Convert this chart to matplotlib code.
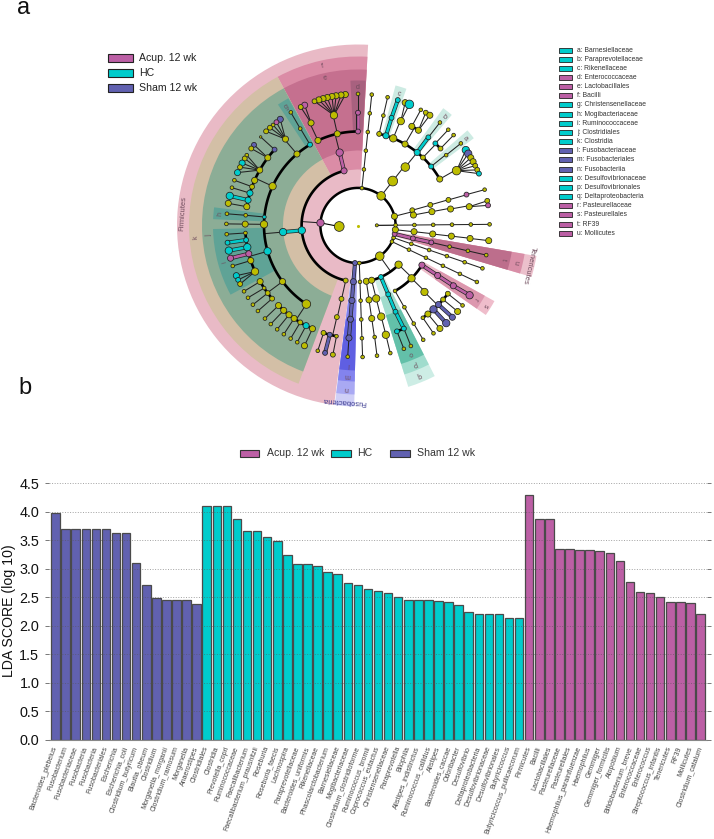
import numpy as np
import matplotlib
matplotlib.use("Agg")
import matplotlib.pyplot as plt
from matplotlib.patches import Rectangle

plt.rcParams['font.family'] = ['Liberation Sans', 'DejaVu Sans']

W, H = 714, 839
ACUP, HC, SHAM, NODE = '#BC5FA5', '#00CCCC', '#6161B0', '#BDBD00'
group_colors = {'a': ACUP, 'h': HC, 's': SHAM, 'y': NODE}

# ---------- panel b data ----------
sham_names = ['Bacteroides_plebeius', 'Fusobacterium', 'Fusobacteriaceae', 'Fusobacteria', 'Fusobacteria',
              'Fusobacteriales', 'Escherichia', 'Escherichia_coli', 'Clostridium_butyricum', 'Blautia_obeum',
              'Clostridium', 'Morganella_morganii', 'Clostridium_ramosum', 'Morganella', 'Anaerostipes']
sham_vals = [3.97, 3.70, 3.70, 3.70, 3.70, 3.70, 3.63, 3.63, 3.10, 2.72, 2.48, 2.46, 2.46, 2.46, 2.38]
hc_names = ['Clostridiales', 'Clostridia', 'Prevotella_copri', 'Ruminococcaceae', 'Faecalibacterium',
            'Faecalibacterium_prausnitzii', 'Roseburia', 'Roseburia_faecis', 'Lachnospira', 'Paraprevotellaceae',
            'Bacteroides_uniformis', 'Rikenellaceae', 'Phascolarctobacterium', 'Barnesiellaceae',
            'Mogibacteriaceae', 'Clostridium_clostridioforme', 'Ruminococcus_bromii', 'Coprococcus_eutactus',
            'Christensenellaceae', 'Paraprevotella', 'Bilophila', 'Alistipes_indistinctus',
            'Ruminococcus_callidus', 'Alistipes', 'Bacteroides_caccae', 'Odoribacter', 'Desulfovibrio',
            'Deltaproteobacteria', 'Desulfovibrionaceae', 'Desulfovibrionales', 'Butyricicoccus',
            'Butyricicoccus_pullicaecorum']
hc_vals = [4.11, 4.11, 4.10, 3.88, 3.67, 3.67, 3.56, 3.48, 3.25, 3.08, 3.08, 3.05, 2.94, 2.90, 2.75, 2.72,
           2.64, 2.61, 2.58, 2.50, 2.46, 2.45, 2.45, 2.43, 2.41, 2.36, 2.25, 2.21, 2.21, 2.21, 2.13, 2.13]
acup_names = ['Firmicutes', 'Bacilli', 'Lactobacillales', 'Pasteurellaceae', 'Pasteurellales',
              'Haemophilus_parainfluenzae', 'Haemophilus', 'Gemmiger', 'Gemmiger_formicilis', 'Atopobium',
              'Bifidobacterium_breve', 'Enterococcaceae', 'Enterococcus', 'Streptococcus_infantis',
              'Tenericutes', 'RF39', 'Mollicutes', 'Clostridium_catalum']
acup_vals = [4.29, 3.88, 3.88, 3.34, 3.34, 3.33, 3.33, 3.31, 3.28, 3.14, 2.77, 2.59, 2.57, 2.51, 2.42, 2.41,
             2.40, 2.21]
yticks_vals = [0.0, 0.5, 1.0, 1.5, 2.0, 2.5, 3.0, 3.5, 4.0, 4.5]

# ---------- panel a legends ----------
group_labels = ['Acup. 12 wk', 'HC', 'Sham 12 wk']
key_labels = ['a: Barnesiellaceae', 'b: Paraprevotellaceae', 'c: Rikenellaceae', 'd: Enterococcaceae',
              'e: Lactobacillales', 'f: Bacilli', 'g: Christensenellaceae', 'h: Mogibacteriaceae',
              'i: Ruminococcaceae', 'j: Clostridiales', 'k: Clostridia', 'l: Fusobacteriaceae',
              'm: Fusobacteriales', 'n: Fusobacteriia', 'o: Desulfovibrionaceae', 'p: Desulfovibrionales',
              'q: Deltaproteobacteria', 'r: Pasteurellaceae', 's: Pasteurellales', 't: RF39', 'u: Mollicutes']
key_groups = 'hhhaaahhhhhssshhhaaaa'

# ---------- cladogram: nodes in depth-first order (level, angle in degrees, diameter, group) ----------
root_level = [1]; root_angle = [183]; root_size = [8]; root_group = 'y'

firm_level = [2, 3, 4, 5, 6, 7, 7, 5, 6, 7, 7, 7, 7, 7, 7, 7, 7, 5, 6, 7,
              3, 4, 5, 6, 7, 5, 6, 7, 7, 7, 7, 7,
              5, 6, 7, 6, 7, 7, 6, 7, 7, 7, 7, 7, 6, 6, 7, 6, 7, 6, 7, 6, 7,
              5, 6, 7, 5, 6, 7,
              5, 6, 7, 6, 7, 6, 7, 6, 7, 6, 7, 6, 7, 7, 7,
              5, 6, 7, 6, 7, 6, 7, 6, 7,
              5, 6, 7, 6, 7, 6, 7, 6, 7, 6, 7, 6, 7, 6, 7,
              3, 4, 5, 6, 7, 6, 7, 6, 7]
firm_angle = [176, 104.3, 104.1, 115.2, 114.6, 113.9, 115.8, 102.7, 102.3, 95.5, 97.4, 99.6, 101.4, 103.5,
              105.4, 107.3, 109.3, 90, 90, 90,
              185, 185, 120.7, 120.8, 120.7, 130.5, 130, 126.2, 128.3, 130.2, 132, 134.3,
              155.3, 137.7, 137.7, 143.1, 142.2, 144.2, 150.6, 147.7, 149.4, 151.7, 153.7, 156.3, 156.4,
              159.9, 159.9, 163.3, 163.3, 167, 167, 170.4, 170.3,
              174.8, 174.8, 174.9, 179.3, 179.3, 179.3,
              195.9, 183.8, 183.8, 187.4, 187.5, 191.1, 191, 194.5, 194.4, 198.1, 197.9, 204.1, 202.4, 204.4, 206.4,
              216.6, 209.8, 210, 213.7, 213.3, 216.8, 217, 220.4, 220.5,
              236.7, 225.2, 225, 228.8, 228.5, 232.3, 232.1, 235.5, 235.7, 239.2, 239.2, 242.6, 242.5, 246.2, 246,
              257.4, 257.3, 257, 255.5, 255.5, 252.2, 252.2, 259, 259]
firm_size = [6, 5, 6, 5, 5, 5, 4, 5, 6, 5, 5, 5, 5, 5, 5, 5, 4, 4, 4, 3,
             6, 6, 4, 3, 3, 5, 5, 5, 4, 3, 4, 4,
             6, 4, 2, 5, 4, 4, 5, 3, 4, 5, 4, 5, 5, 4, 3, 5, 3, 5, 6, 5, 5,
             3, 3, 3, 6, 5, 3,
             6, 3, 3, 4, 4, 6, 6, 5, 5, 5, 3, 6, 5, 4, 4,
             5, 5, 3, 3, 3, 4, 3, 4, 3,
             7, 5, 3, 5, 3, 5, 3, 5, 3, 4, 3, 5, 3, 5, 5,
             4, 4, 4, 4, 4, 4, 3, 3, 4]
firm_group = ('aaayyayyyyyyyyyyyaay'
              + 'hhhyyyysayyy'
              + 'ysyysy' + 'yyyhyh' + 'yyy' + 'hy' + 'hh' + 'yy'
              + 'hyyyyy'
              + 'hyyhhhhaayyyhhy'
              + 'yyyyyyyyy'
              + 'yyyyyyyyyyyhyyy'
              + 'yyyssyyyy')

fuso_level = [2, 3, 4, 5, 6, 7]
fuso_angle = [-94.6, -94.7, -94.6, -94.6, -94.6, -94.5]
fuso_size = [4, 5, 5, 5, 5, 3]
fuso_group = 'sssssy'

fuso_next_level = [2, 3, 4, 5, 6, 7]
fuso_next_angle = [-88, -88, -88, -88, -88, -88]
fuso_next_size = [3, 3, 3, 3, 3, 3]
fuso_next_group = 'yyyyyy'

prot_level = [2, 3, 4, 5, 6, 7, 3, 4, 5, 6, 7, 3, 4, 5, 6, 7, 6, 7,
              3, 4, 5, 6, 7, 4, 5, 6, 7, 6, 7, 6, 7, 6, 7, 6, 7, 6, 7, 4, 5, 6, 7]
prot_angle = [-54.6, -81.5, -81.6, -81.6, -81.5, -81.7, -76, -76, -75.7, -75.7, -75.8,
              -66, -66.3, -66.5, -66, -66.3, -69.8, -69.6,
              -44, -60.5, -60.4, -60.4, -60.3, -44.6, -45, -54.9, -55, -51.7, -51.5, -48, -47.9, -44.5, -44.2,
              -41, -40.8, -37.2, -37.4, -31.8, -32.1, -32.3, -32]
prot_size = [7, 5, 5, 5, 3, 3, 5, 6, 6, 6, 3, 4, 4, 4, 4, 3, 4, 3,
             6, 3, 3, 3, 3, 6, 6, 3, 3, 5, 5, 6, 6, 5, 5, 4, 5, 4, 3, 5, 5, 5, 6]
prot_group = 'yyyyyy' + 'yyyyy' + 'hhhhyhy' + 'yyyyy' + 'yyyyyyssss' + 'yyyy' + 'aaaa'

chain_25_level = [2, 3, 4, 5, 6, 7]
chain_25_angle = [-25.4, -25.4, -25.4, -25.4, -25.4, -25.4]
chain_25_size = [3, 3, 3, 3, 3, 3]
chain_25_group = 'yyyyyy'

chain_19_level = [2, 3, 4, 5, 6, 7]
chain_19_angle = [-19, -19, -19, -19, -19, -19]
chain_19_size = [3, 3, 3, 3, 3, 3]
chain_19_group = 'yyyyyy'

tene_level = [2, 3, 4, 5, 6, 7]
tene_angle = [-13, -13.2, -13, -13, -13, -13]
tene_size = [4, 4, 4, 3, 3, 3]
tene_group = 'aaayyy'

chain_6_level = [2, 3, 4, 5, 6, 7]
chain_6_angle = [-6.4, -6.3, -6.5, -6.5, -6.6, -6.6]
chain_6_size = [5, 5, 5, 5, 5, 5]
chain_6_group = 'yyyyyy'

upper_level = [2, 3, 4, 5, 6, 7, 3, 4, 5, 6, 7, 7]
upper_angle = [14.2, 15.7, 15.9, 15.8, 15.9, 15.8, 10.7, 10.6, 10.1, 9.6, 10.8, 8.8]
upper_size = [5, 4, 4, 4, 4, 3, 5, 5, 5, 5, 4, 4]
upper_group = 'yyyyay' + 'yyyyya'

bact_level = [2, 3, 4, 5, 6, 7, 5, 6, 7, 5, 6, 7, 7, 5, 6, 7, 6, 7, 7, 5, 6, 7,
              5, 6, 7, 6, 7, 5, 6, 7, 5, 6, 7, 7, 7, 7, 7, 7, 7]
bact_angle = [52, 52, 51, 77, 77, 77, 72.7, 72.7, 72.4, 68, 67.7, 69, 67, 60, 61.5, 61.5, 57.6, 59, 56.9,
              51, 51.4, 51.5, 46.3, 46.7, 46.7, 43, 43.4, 38.9, 38.6, 38.6,
              29.6, 29.1, 35, 33.1, 31, 29, 27, 25, 23.2]
bact_size = [7, 8, 7, 4, 3, 3, 5, 4, 4, 6, 6, 5, 7, 5, 5, 3, 5, 4, 5, 5, 4, 3, 4, 4, 3, 4, 3, 4, 3, 3,
             5, 7, 6, 6, 5, 5, 4, 4, 4]
bact_group = 'yyyyyy' + 'hhh' + 'yyyh' + 'yyyyyy' + 'hhy' + 'yhy' + 'yy' + 'hyy' + 'yyhsyyyyh'

chain_84_level = [2, 3, 4, 5, 6, 7]
chain_84_angle = [84, 84, 84, 84, 84, 84]
chain_84_size = [3, 3, 3, 3, 3, 3]
chain_84_group = 'yyyyyy'

chain_0_level = [1, 2, 3, 4, 5, 6, 7]
chain_0_angle = [0.5, 0.5, 0.5, 0.5, 0.5, 0.5, 0.5]
chain_0_size = [2.5, 3, 3, 3, 3, 3, 3]
chain_0_group = 'yyyyyyy'

# ---------- cladogram shading: start, end (deg), inner, outer (pixels from the centre) ----------
wedge_start = [86.8, 86.8, 86.8, 87, 118.4, 118.4, 118.7, 172.8, 181.4,
               -16.5, -16.5, -16.5, -35, -35,
               -97.4, -97.4, -97.4, -97.4,
               -72.7, -72.7, -72.7, 70.5, 49.7, 37]
wedge_end = [262.4, 118.4, 118.4, 93, 249.4, 249.4, 123.5, 177.5, 208.5,
             -9.7, -9.7, -9.7, -29, -29,
             -91.2, -91.2, -91.2, -91.2,
             -63, -63, -63, 75, 54, 41]
wedge_inner = [38, 56, 75, 94, 56, 75, 94, 94, 94,
               38, 56, 75, 75, 94,
               38, 56, 75, 94,
               56, 75, 94, 94, 94, 94]
wedge_outer = [181, 169, 156, 145, 169, 156, 145, 145, 145,
               181, 169, 156, 156, 145,
               181, 169, 156, 145,
               169, 156, 145, 145, 145, 145]
wedge_color = ['#E9BAC6', '#DB8CA6', '#C5708F', '#A8617F', '#D3BFA6', '#8CAD96', '#5FA396', '#5FA396', '#5FA396',
               '#ECC0CC', '#D98EA7', '#BD6E8C', '#EFBDCB', '#DC97AE',
               '#CFCFF7', '#A9A9F3', '#8383EE', '#5F5FE2',
               '#CDEDE5', '#A0DCCD', '#63C0A9', '#CDEBE3', '#CDEBE3', '#CDEBE3']

wedge_text = ['a', 'b', 'c', 'd', 'e', 'f', 'g', 'h', 'i', 'j', 'k', 'l', 'm', 'n', 'o', 'p', 'q', 'r', 's', 't', 'u',
              'Firmicutes', 'Tenericutes', 'Fusobacteria']
wedge_text_angle = [39, 51.7, 72.8, 90, 102.5, 102.5, 121, 175, 195, 183.6, 184, -94, -94, -94,
                    -67.7, -67.7, -67.7, -32, -32, -13, -13, 176, -13, -94.3]
wedge_text_r = [138, 138, 138, 138, 151, 163, 138, 138, 138, 150, 163, 139, 150, 163,
                138, 150, 162, 138, 150, 149, 162, 175, 175, 176]

# ---------- figure ----------
fig = plt.figure(figsize=(W / 100, H / 100), dpi=100, facecolor='white')

# overlay in picture pixels for legends and letters
over = fig.add_axes([0, 0, 1, 1], zorder=5)
over.set_xlim(0, W)
over.set_ylim(H, 0)
over.axis('off')
over.patch.set_alpha(0)

# ---------- cladogram ----------
CX, CY, RMAX, LEVEL_PX = 358, 225.5, 190, 18.8
clad = fig.add_axes([(CX - RMAX) / W, (H - CY - RMAX) / H, 2 * RMAX / W, 2 * RMAX / H], projection='polar', zorder=1)
clad.set_rlim(0, RMAX)
clad.set_axis_off()
clad.patch.set_alpha(0)

for a0, a1, r0, r1, c in zip(wedge_start, wedge_end, wedge_inner, wedge_outer, wedge_color):
    clad.bar(np.deg2rad(a0), r1 - r0, width=np.deg2rad(a1 - a0), bottom=r0, align='edge', color=c,
             edgecolor='none', zorder=1)

level = root_level + firm_level + fuso_level + fuso_next_level + prot_level + chain_25_level + chain_19_level \
    + tene_level + chain_6_level + upper_level + bact_level + chain_84_level + chain_0_level
angle = root_angle + firm_angle + fuso_angle + fuso_next_angle + prot_angle + chain_25_angle + chain_19_angle \
    + tene_angle + chain_6_angle + upper_angle + bact_angle + chain_84_angle + chain_0_angle
size = root_size + firm_size + fuso_size + fuso_next_size + prot_size + chain_25_size + chain_19_size \
    + tene_size + chain_6_size + upper_size + bact_size + chain_84_size + chain_0_size
groups = root_group + firm_group + fuso_group + fuso_next_group + prot_group + chain_25_group + chain_19_group \
    + tene_group + chain_6_group + upper_group + bact_group + chain_84_group + chain_0_group
assert len(level) == len(angle) == len(size) == len(groups), (len(level), len(angle), len(size), len(groups))
n = len(level)

parents = [None] * n
stack = {}
children = {}
for i in range(n):
    lv = level[i]
    if lv > 1:
        parents[i] = stack.get(lv - 1)
        children.setdefault(parents[i], []).append(i)
    stack[lv] = i


def rad(i):
    return level[i] * LEVEL_PX


def th(a):
    return np.deg2rad(a)


# ring of the phylum level
tt = np.linspace(0, 2 * np.pi, 361)
clad.plot(tt, np.full_like(tt, 2 * LEVEL_PX), color='black', lw=1.8, zorder=3)

for p, kids in children.items():
    lv_c = level[kids[0]]
    rc = lv_c * LEVEL_PX
    if lv_c == 2:
        for k in kids:
            if abs(angle[k] - angle[p]) < 10:
                clad.plot([th(angle[p]), th(angle[k])], [rad(p), rc], color='black', lw=0.8, zorder=3)
        continue
    if lv_c == 7:
        for k in kids:
            clad.plot([th(angle[p]), th(angle[k])], [rad(p), rc], color='#222222', lw=0.75, zorder=3)
    else:
        clad.plot([th(angle[p])] * 2, [rad(p), rc], color='#222222', lw=0.75, zorder=3)
        span = [angle[k] for k in kids] + [angle[p]]
        if max(span) - min(span) > 0.6:
            aa = np.linspace(min(span), max(span), 80)
            clad.plot(th(aa), np.full_like(aa, rc), color='black', lw=1.9, zorder=3)

# thick coloured edges between biomarkers of one group
for i in range(n):
    p = parents[i]
    if p is None or groups[i] == 'y' or groups[i] != groups[p] or abs(angle[i] - angle[p]) > 3:
        continue
    xs, ys = [th(angle[p]), th(angle[i])], [rad(p), rad(i)]
    clad.plot(xs, ys, color='#222222', lw=2.9, zorder=3.2, solid_capstyle='butt')
    clad.plot(xs, ys, color=group_colors[groups[i]], lw=1.9, zorder=3.3, solid_capstyle='butt')

clad.scatter(th(np.array(angle, float)), np.array(level) * LEVEL_PX,
             s=(np.array(size, float) * 1.22 * 0.72) ** 2,
             c=[group_colors[g] for g in groups], edgecolors='#222222', linewidths=0.55, zorder=4)
clad.scatter([0], [0], s=1.5, c=[NODE], zorder=4)

for t, a, r in zip(wedge_text, wedge_text_angle, wedge_text_r):
    long_name = len(t) > 1
    col = '#6E4B5C' if t != 'Fusobacteria' else '#39398F'
    clad.text(th(a), r, t, rotation=a - 90, rotation_mode='anchor', ha='center', va='center',
              fontsize=5.4 if long_name else 5, color=col, zorder=5)

# legends of panel a
for lab, col, y in zip(group_labels, [ACUP, HC, SHAM], [58, 73, 88]):
    over.add_patch(Rectangle((108, y - 4), 25, 8, facecolor=col, edgecolor='#222222', lw=0.8))
    over.text(139, y, lab, fontsize=7.6, va='center', ha='left', color='#222222')

key_col = {'a': ACUP, 'h': HC, 's': SHAM}
for i, lab in enumerate(key_labels):
    y = 50 + i * 9.165
    over.add_patch(Rectangle((558.5, y - 2.5), 13, 5, facecolor=key_col[key_groups[i]], edgecolor='#222222', lw=0.6))
    over.text(577, y, lab, fontsize=4.9, va='center', ha='left', color='#333333')

over.text(17, 13.5, 'a', fontsize=17, va='baseline', ha='left', color='#111111')
over.text(18, 394, 'b', fontsize=17, va='baseline', ha='left', color='#111111')

# legend of panel b
for lab, col, x0, xt in zip(group_labels, [ACUP, HC, SHAM], [239.5, 331, 390], [267, 357, 417]):
    over.add_patch(Rectangle((x0, 449.5), 19.5, 7, facecolor=col, edgecolor='#333333', lw=0.8))
    over.text(xt, 453, lab, fontsize=7.6, va='center', ha='left', color='#333333')

# ---------- bars ----------
names = sham_names + hc_names + acup_names
vals = sham_vals + hc_vals + acup_vals
cols = [SHAM] * len(sham_vals) + [HC] * len(hc_vals) + [ACUP] * len(acup_vals)
AX_L, AX_R, AX_T, AX_B = 49, 707, 483.3, 739.7
ax = fig.add_axes([AX_L / W, (H - AX_B) / H, (AX_R - AX_L) / W, (AX_B - AX_T) / H], zorder=2)
step = (700.5 - 55.6) / 64
ax.set_xlim((AX_L - 55.6) / step, (AX_R - 55.6) / step)
ax.set_ylim(0, 4.5)
xs = np.arange(len(vals))
ax.bar(xs, vals, width=0.85, color=cols, edgecolor='#4a4a4a', linewidth=0.9, zorder=2)
ax.set_yticks(yticks_vals)
ax.set_yticklabels([f'{v:.1f}' for v in yticks_vals], fontsize=10.4, color='#111111')
ax.yaxis.set_ticks_position('both')
ax.tick_params(axis='y', length=3, width=0.7, color='#777777', pad=4)
ax.set_xticks(xs)
ax.set_xticklabels(names, rotation=70, rotation_mode='anchor', ha='right', va='center', fontsize=5,
                   color='#444444')
ax.tick_params(axis='x', length=0, pad=5)
ax.set_ylabel('LDA SCORE (log 10)', fontsize=10.2, color='#111111')
ax.yaxis.set_label_coords((16 - AX_L) / (AX_R - AX_L), 0.505)
ax.grid(axis='y', linestyle=':', color='#555555', lw=0.7, alpha=0.55, zorder=3)
ax.set_axisbelow(False)
for s in ['top', 'left', 'right']:
    ax.spines[s].set_visible(False)
ax.spines['bottom'].set_color('#888888')
ax.spines['bottom'].set_linewidth(0.8)

fig.savefig('out.png', dpi=100)
